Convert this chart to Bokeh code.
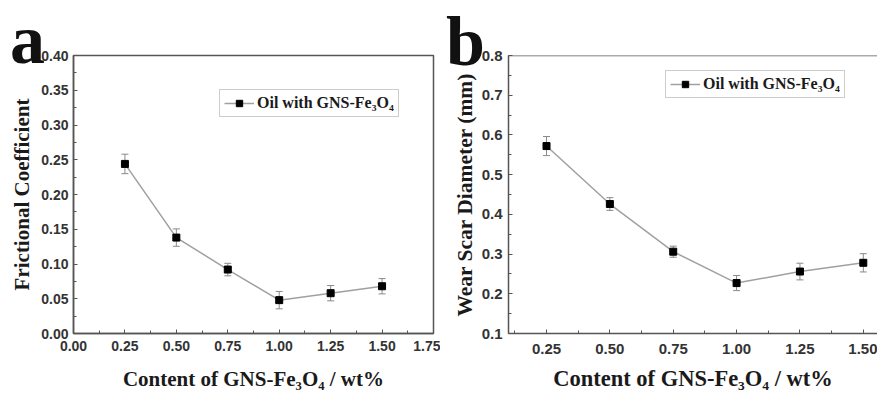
from bokeh.plotting import figure
from bokeh.layouts import row
from bokeh.models import (ColumnDataSource, Whisker, TeeHead, Legend, LegendItem, Div,
                          SingleIntervalTicker, NumeralTickFormatter, Range1d, Span)
from bokeh.embed import file_html
from bokeh.resources import INLINE

# ---- data ----
content = [0.25, 0.50, 0.75, 1.00, 1.25, 1.50]
friction = [0.244, 0.138, 0.092, 0.048, 0.058, 0.068]
friction_err = [0.014, 0.0125, 0.009, 0.0125, 0.011, 0.011]
wear_scar = [0.572, 0.426, 0.306, 0.227, 0.256, 0.278]
wear_scar_err = [0.024, 0.016, 0.014, 0.019, 0.021, 0.023]
series_label = "Oil with GNS-Fe₃O₄"
x_label = "Content of GNS-Fe₃O₄ / wt%"
y_label_a = "Frictional Coefficient"
y_label_b = "Wear Scar Diameter (mm)"
panel_letters = ["a", "b"]

AXIS = "#555555"
LINE = "#a0a0a0"
ERR = "#8a8a8a"
SANS = "Liberation Sans"
SERIF = "Liberation Serif"


def make_panel(x, y, err, ylab, xr, yr, xint, yint, fmt_x, fmt_y, width, height,
               borders, fs_tick, fs_xlabel, fs_ylabel, leg_loc, stand):
    p = figure(width=width, height=height, output_backend="svg", toolbar_location=None,
               x_range=Range1d(*xr), y_range=Range1d(*yr),
               min_border_left=borders[0], min_border_right=borders[1],
               min_border_top=borders[2], min_border_bottom=borders[3])
    p.background_fill_color = "white"
    p.border_fill_color = "white"
    p.xgrid.visible = False
    p.ygrid.visible = False
    p.outline_line_color = AXIS
    p.outline_line_width = 1.5

    src = ColumnDataSource(dict(x=x, y=y, lo=[a - b for a, b in zip(y, err)],
                                hi=[a + b for a, b in zip(y, err)]))
    ln = p.line("x", "y", source=src, line_color=LINE, line_width=1.5)
    sc = p.scatter("x", "y", source=src, marker="square", size=7,
                   fill_color="black", line_color="black")
    wh = Whisker(source=src, base="x", lower="lo", upper="hi", line_color=ERR, line_width=1,
                 upper_head=TeeHead(size=7, line_color=ERR, line_width=1),
                 lower_head=TeeHead(size=7, line_color=ERR, line_width=1))
    p.add_layout(wh)

    for ax, iv, fmt in ((p.xaxis[0], xint, fmt_x), (p.yaxis[0], yint, fmt_y)):
        ax.ticker = SingleIntervalTicker(interval=iv, num_minor_ticks=2)
        ax.formatter = NumeralTickFormatter(format=fmt)
        ax.axis_line_color = AXIS
        ax.axis_line_width = 1.5
        ax.major_tick_line_color = AXIS
        ax.minor_tick_line_color = AXIS
        ax.major_tick_in = 4
        ax.major_tick_out = 0
        ax.minor_tick_in = 3
        ax.minor_tick_out = 0
        ax.major_label_text_font = SANS
        ax.major_label_text_font_style = "bold"
        ax.major_label_text_font_size = fs_tick
        ax.major_label_text_color = "#333333"
        ax.axis_label_text_font = SERIF
        ax.axis_label_text_font_style = "bold"
        ax.axis_label_text_color = "#1a1a1a"
    p.xaxis[0].axis_label_text_font_size = fs_xlabel
    p.yaxis[0].axis_label_text_font_size = fs_ylabel
    p.xaxis[0].axis_label = x_label
    p.yaxis[0].axis_label = ylab
    p.xaxis[0].major_label_standoff = stand[0]
    p.xaxis[0].axis_label_standoff = stand[1]
    p.yaxis[0].major_label_standoff = stand[2]
    p.yaxis[0].axis_label_standoff = stand[3]

    leg = Legend(items=[LegendItem(label=series_label, renderers=[ln, sc])],
                 location=leg_loc)
    leg.border_line_color = "#9a9a9a"
    leg.border_line_width = 1
    leg.background_fill_color = "white"
    leg.background_fill_alpha = 1
    leg.label_text_font = SERIF
    leg.label_text_font_style = "bold"
    leg.label_text_font_size = "16px"
    leg.label_text_color = "#1a1a1a"
    leg.glyph_width = 30
    leg.glyph_height = 16
    leg.label_height = 18
    leg.label_standoff = 3
    leg.padding = 4
    leg.margin = 0
    p.add_layout(leg)
    return p


pa = make_panel(content, friction, friction_err, y_label_a,
                (0.0, 1.75), (0.0, 0.40), 0.25, 0.05, "0.00", "0.00",
                440, 399, (73, 7, 55, 66), "14px", "21px", "21px", (146, 216),
                (7, 13, 5, 4))

pb = make_panel(content, wear_scar, wear_scar_err, y_label_b,
                (0.10, 1.556), (0.1, 0.8), 0.25, 0.1, "0.00", "0.0",
                437, 399, (68, 0, 50, 55), "15px", "22.5px", "21.5px", (157, 235),
                (10, 9, 6, 2))
pb.outline_line_color = None
pb.add_layout(Span(location=0.8, dimension="width", line_color=AXIS, line_width=1.5))


def letter_div(txt, left, top):
    return Div(text=txt, width=45, height=70,
               styles={"position": "absolute", "left": f"{left}px", "top": f"{top}px",
                       "font-family": SERIF, "font-weight": "bold", "font-size": "70px",
                       "line-height": "70px", "color": "#111111", "z-index": "10",
                       "margin": "0", "padding": "0"})


div_a = letter_div(panel_letters[0], 10, 5)
div_b = letter_div(panel_letters[1], 446, 7)

layout = row(pa, pb, div_a, div_b)
open("out.html", "w").write(file_html(layout, INLINE))
